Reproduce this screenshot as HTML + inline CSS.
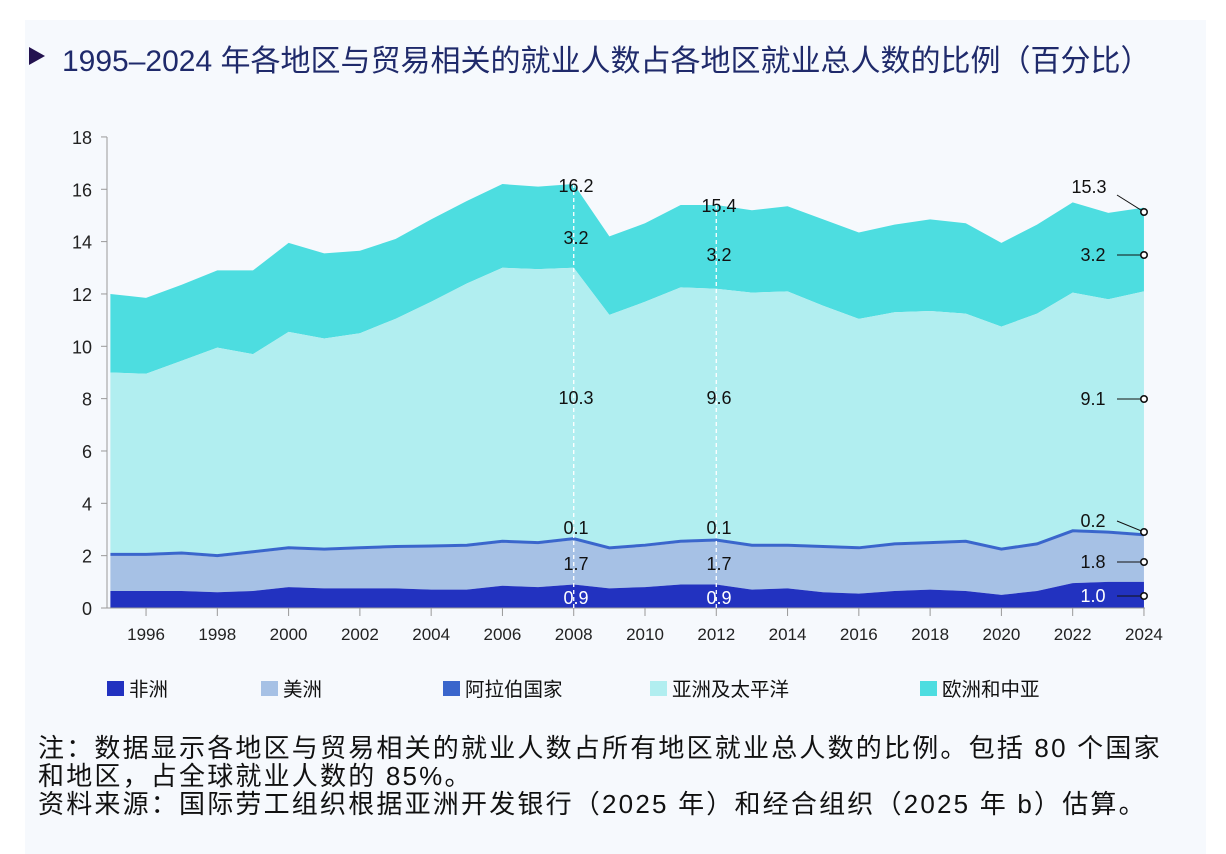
<!DOCTYPE html>
<html><head><meta charset="utf-8"><style>
body{margin:0;width:1226px;height:854px;background:#fff;overflow:hidden;font-family:"Liberation Sans","Noto Sans CJK SC",sans-serif;}
#p{position:absolute;left:25px;top:20px;width:1181px;height:834px;background:#f6f9fd;}
.t{position:absolute;left:62px;top:36px;font-size:30px;color:#1f2a6b;white-space:nowrap;}
.tri{position:absolute;left:29px;top:47px;width:0;height:0;border-left:16px solid #23124f;border-top:9px solid transparent;border-bottom:9px solid transparent;}
.note{position:absolute;left:38px;top:734px;font-size:26px;line-height:28px;color:#111;white-space:nowrap;letter-spacing:2.2px;}
svg{position:absolute;left:0;top:0}
</style></head><body>
<div id="p"></div>
<div class="tri"></div>
<div class="t">1995–2024 年各地区与贸易相关的就业人数占各地区就业总人数的比例（百分比）</div>
<svg id="s" width="1226" height="854" font-family="Liberation Sans, Noto Sans CJK SC, sans-serif"></svg>
<div class="note">注：数据显示各地区与贸易相关的就业人数占所有地区就业总人数的比例。包括 80 个国家<br>和地区，占全球就业人数的 85%。<br>资料来源：国际劳工组织根据亚洲开发银行（2025 年）和经合组织（2025 年 b）估算。</div>
<script>
var tot=[12.0,11.85,12.35,12.9,12.9,13.95,13.55,13.65,14.1,14.85,15.55,16.2,16.1,16.2,14.2,14.7,15.4,15.4,15.2,15.35,14.85,14.35,14.65,14.85,14.7,13.95,14.65,15.5,15.1,15.3];
var asi=[9.0,8.95,9.45,9.95,9.7,10.55,10.3,10.5,11.05,11.7,12.4,13.0,12.95,13.0,11.2,11.7,12.25,12.2,12.05,12.1,11.55,11.05,11.3,11.35,11.25,10.75,11.25,12.05,11.8,12.1];
var ara=[2.1,2.1,2.15,2.05,2.2,2.35,2.3,2.35,2.4,2.42,2.45,2.6,2.55,2.7,2.35,2.45,2.6,2.65,2.45,2.45,2.4,2.35,2.5,2.55,2.6,2.3,2.5,3.0,2.95,2.85];
var afr=[0.65,0.65,0.65,0.6,0.65,0.8,0.75,0.75,0.75,0.7,0.7,0.85,0.8,0.9,0.75,0.8,0.9,0.9,0.7,0.75,0.6,0.55,0.65,0.7,0.65,0.5,0.65,0.95,1.0,1.0];
function X(i){return 110.4+i*35.64}function Y(v){return 608-v*26.17}
var h='';
function area(top,bot,c){var d='M';for(var i=0;i<30;i++)d+=X(i)+','+Y(top[i])+' L';for(var i=29;i>=0;i--)d+=X(i)+','+Y(bot?bot[i]:0)+(i?' L':'');h+='<path d="'+d+'Z" fill="'+c+'"/>';}
var amr=ara.map(function(v){return v-0.1});
area(tot,asi,'#4ddde0');area(asi,ara,'#b1eef0');area(amr,afr,'#a6c1e5');area(afr,null,'#2232c0');
var d='M';for(var i=0;i<30;i++)d+=X(i)+','+Y(ara[i]-0.05)+(i<29?' L':'');h+='<path d="'+d+'" fill="none" stroke="#3a66cc" stroke-width="3"/>';
h+='<line x1="107" y1="137" x2="107" y2="608" stroke="#999"/><line x1="107" y1="608" x2="1145" y2="608" stroke="#999"/>';
for(var v=0;v<=18;v+=2){h+='<line x1="101" x2="107" y1="'+Y(v)+'" y2="'+Y(v)+'" stroke="#999"/><text x="92" y="'+(Y(v)+7)+'" font-size="18" text-anchor="end" fill="#222">'+v+'</text>';}
for(var yr=1996;yr<=2024;yr+=2){var x=X(yr-1995);h+='<line x1="'+x+'" x2="'+x+'" y1="608" y2="616" stroke="#999"/><text x="'+x+'" y="640" font-size="17" text-anchor="middle" fill="#222">'+yr+'</text>';}
[13,17].forEach(function(i){var x=X(i);h+='<line x1="'+x+'" x2="'+x+'" y1="'+Y(tot[i])+'" y2="608" stroke="#fff" stroke-dasharray="4,3" stroke-width="1.3"/>';});
function tx(x,y,s,c){h+='<text x="'+x+'" y="'+y+'" font-size="18" text-anchor="middle" fill="'+(c||'#111')+'">'+s+'</text>';}
tx(576,192,'16.2');tx(576,244,'3.2');tx(576,404,'10.3');tx(576,534,'0.1');tx(576,570,'1.7');tx(576,604,'0.9','#fff');
tx(719,212,'15.4');tx(719,261,'3.2');tx(719,404,'9.6');tx(719,534,'0.1');tx(719,570,'1.7');tx(719,604,'0.9','#fff');
tx(1089,193,'15.3');tx(1093,261,'3.2');tx(1093,405,'9.1');tx(1093,527,'0.2');tx(1093,568,'1.8');tx(1093,602,'1.0','#fff');
var pts=[[1117,195,212],[1117,255,255],[1117,399,399],[1117,521,532],[1117,562,562],[1117,596,596]];
pts.forEach(function(p){h+='<line x1="'+p[0]+'" y1="'+p[1]+'" x2="1144" y2="'+p[2]+'" stroke="#111"/><circle cx="1144" cy="'+p[2]+'" r="3.2" fill="#fff" stroke="#111" stroke-width="1.6"/>';});
var lg=[['非洲','#2232c0',107],['美洲','#a6c1e5',261],['阿拉伯国家','#3a66cc',443],['亚洲及太平洋','#b1eef0',650],['欧洲和中亚','#4ddde0',920]];
lg.forEach(function(l){h+='<rect x="'+l[2]+'" y="681" width="17" height="15" fill="'+l[1]+'"/><text x="'+(l[2]+22)+'" y="696" font-size="19.5" fill="#111">'+l[0]+'</text>';});
document.getElementById('s').innerHTML=h;
</script>
</body></html>
